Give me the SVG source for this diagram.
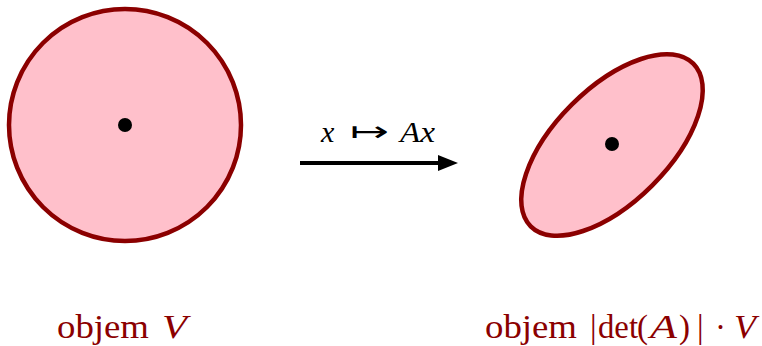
<svg xmlns="http://www.w3.org/2000/svg" width="762" height="346" viewBox="0 0 762 346">
<style>
.shape{fill:#FFC0CB;stroke:#8B0000;stroke-width:4.5}
.dot{fill:#000}
.lbl{font-family:"Liberation Serif","DejaVu Serif",serif;font-size:33px;fill:#8B0000}
.it{font-style:italic}
.math{font-family:"Liberation Serif","DejaVu Serif",serif;font-size:30px;fill:#000}
</style>
<defs>
<marker id="ah" markerWidth="5" markerHeight="4" refX="0" refY="2" orient="auto" markerUnits="strokeWidth">
<path d="M0,0 L5,2 L0,4 Z" fill="#000"/>
</marker>
</defs>
<g id="circle">
<circle class="shape" cx="125" cy="125" r="116"/>
<circle class="dot" cx="125" cy="125" r="7"/>
</g>
<g id="ellipse">
<ellipse class="shape" cx="612" cy="145" rx="115" ry="57" transform="rotate(-45 612 145)"/>
<circle class="dot" cx="612" cy="144" r="7"/>
</g>
<g id="connectors">
<line x1="300" y1="163" x2="438" y2="163" stroke="#000" stroke-width="4" marker-end="url(#ah)"/>
<g id="arrow-label">
<text class="math it" x="321" y="142">x</text>
<text x="350" y="141" font-family="DejaVu Sans,sans-serif" font-size="28" fill="#000" textLength="39" lengthAdjust="spacingAndGlyphs">↦</text>
<text class="math it" x="400" y="142" textLength="35" lengthAdjust="spacingAndGlyphs">Ax</text>
</g>
</g>
<g id="label-left">
<text class="lbl" x="57" y="338" textLength="92" lengthAdjust="spacingAndGlyphs">objem</text>
<text class="lbl it" x="162" y="338" textLength="25" lengthAdjust="spacingAndGlyphs">V</text>
</g>
<g id="label-right">
<text class="lbl" x="485" y="338" textLength="92" lengthAdjust="spacingAndGlyphs">objem</text>
<text class="lbl" x="590" y="338">|</text>
<text class="lbl" x="598" y="338" textLength="40" lengthAdjust="spacingAndGlyphs">det</text>
<text class="lbl" x="637" y="338">(</text>
<text class="lbl it" x="650" y="338" textLength="27" lengthAdjust="spacingAndGlyphs">A</text>
<text class="lbl" x="679" y="338">)</text>
<text class="lbl" x="697" y="338">|</text>
<text class="lbl" x="715" y="338">·</text>
<text class="lbl it" x="734" y="338" textLength="22" lengthAdjust="spacingAndGlyphs">V</text>
</g>
</svg>
